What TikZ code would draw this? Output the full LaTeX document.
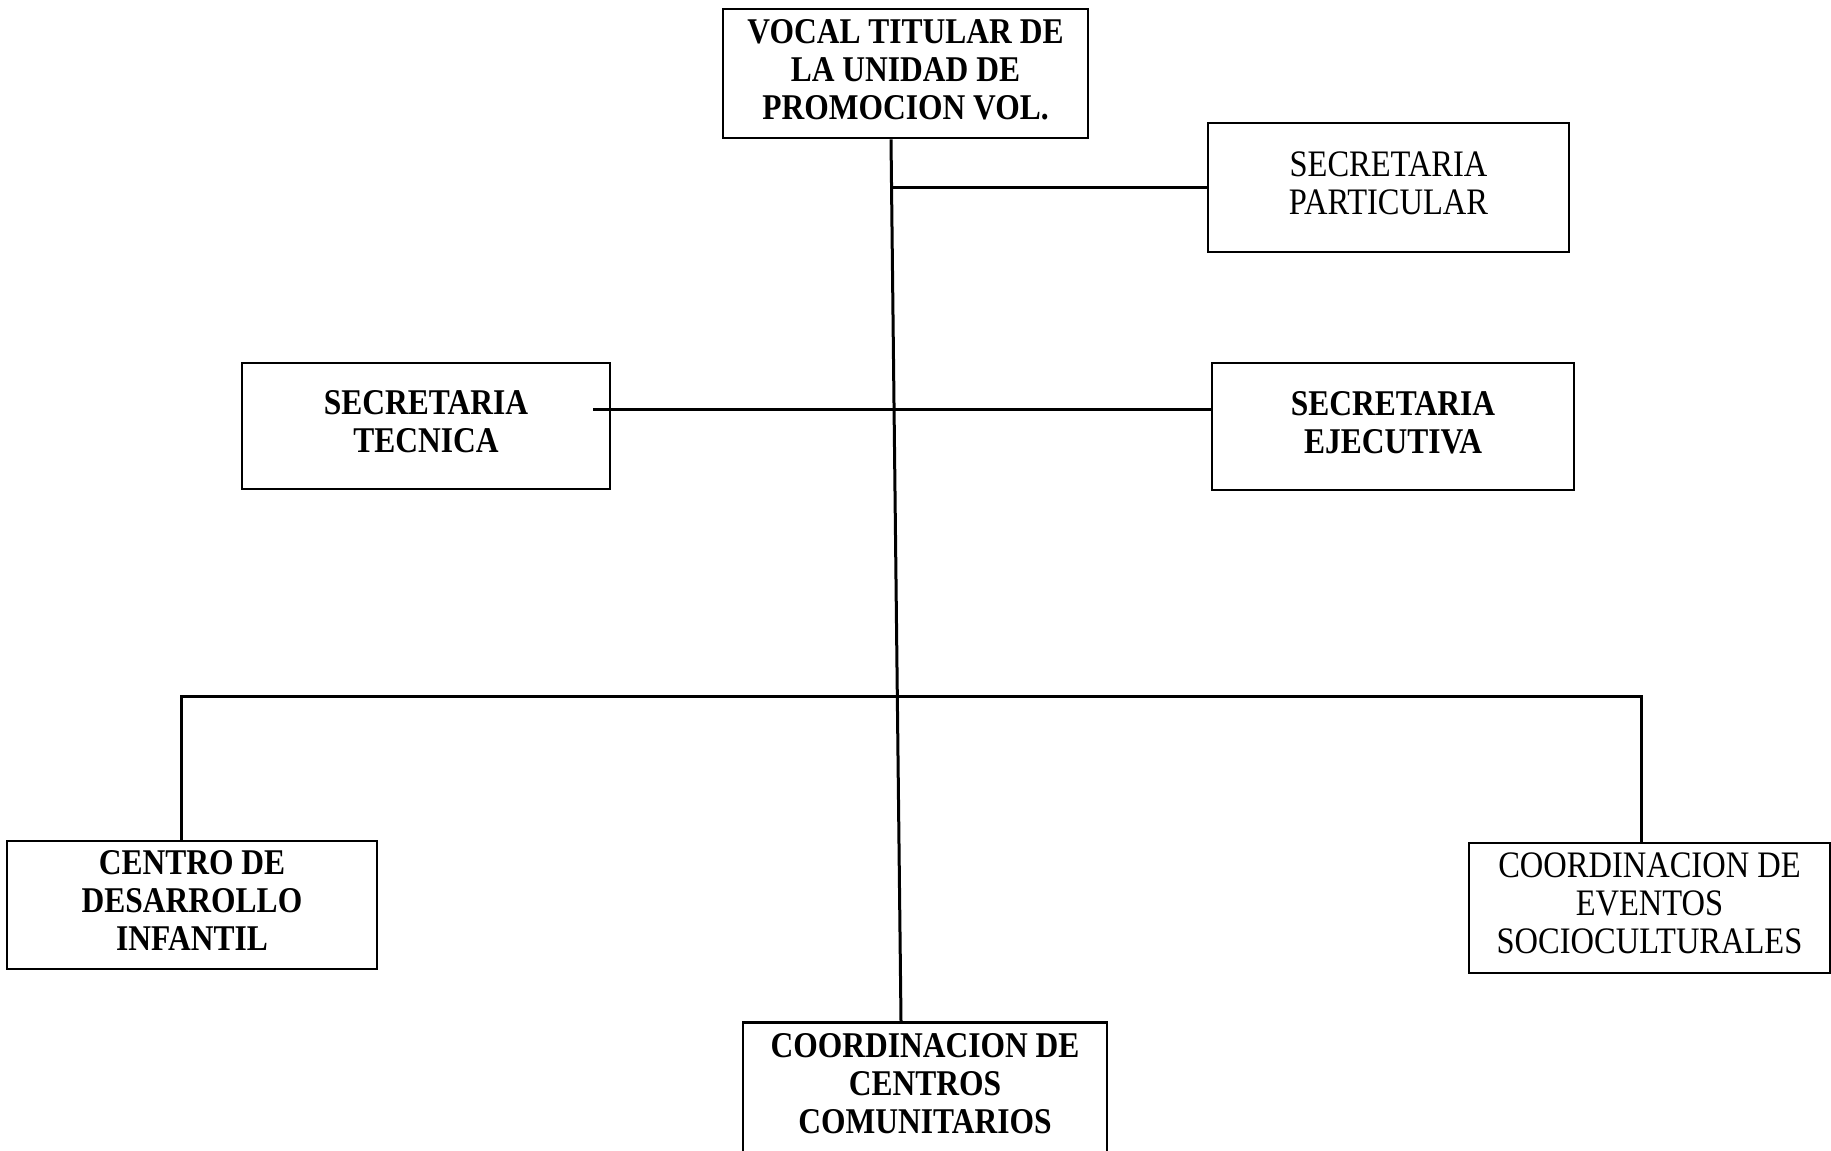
\documentclass[tikz,border=0pt]{standalone}
\usepackage{graphicx}
\usepackage{fontspec}
\setmainfont{Liberation Serif}
\usetikzlibrary{calc}

% Stacked, slightly tall lettering used inside every box
\newcommand{\boxlines}[1]{\scalebox{1}[1.15]{\begin{tabular}{@{}c@{}}#1\end{tabular}}}

\tikzset{
  unitbox/.style={draw=black, line width=2.8pt, rectangle, inner sep=0pt,
    minimum width=#1, minimum height=128pt},
  boldtext/.style={font=\bfseries\fontsize{31.5}{33}\selectfont},
  plaintext/.style={font=\fontsize{32.5}{33}\selectfont},
  link/.style={draw=black, line width=3pt}
}

\begin{document}
\begin{tikzpicture}[x=1pt, y=-1pt]
  \useasboundingbox (0,0) rectangle (1831,1151);
  \clip (0,0) rectangle (1831,1151);
  \fill[white] (0,0) rectangle (1831,1151);

  % Head of the unit
  \node[unitbox=365pt, minimum height=129pt, boldtext] (vocal) at (905.5,73.5)
    {\boxlines{VOCAL TITULAR DE\\LA UNIDAD DE\\PROMOCION VOL.}};

  % Staff offices
  \node[unitbox=361pt, minimum height=129pt, plaintext] (part) at (1388.5,187.5)
    {\boxlines{SECRETARIA\\PARTICULAR}};
  \node[unitbox=368pt, minimum height=126pt, boldtext] (tec) at (426,426)
    {\boxlines{SECRETARIA\\TECNICA}};
  \node[unitbox=362pt, minimum height=127pt, boldtext] (eje) at (1393,426.5)
    {\boxlines{SECRETARIA\\EJECUTIVA}};

  % Operating areas
  \node[unitbox=370pt, boldtext] (cdi) at (192,905)
    {\boxlines{CENTRO DE\\DESARROLLO\\INFANTIL}};
  \node[unitbox=361pt, minimum height=130pt, plaintext] (cev) at (1649.5,908)
    {\boxlines{COORDINACION DE\\EVENTOS\\SOCIOCULTURALES}};
  \node[unitbox=364pt, minimum height=160pt, anchor=north] (ccc) at (925,1021) {};
  \node[boldtext, anchor=north, inner sep=0pt] (ccclabel) at ([yshift=-10pt]ccc.north)
    {\boxlines{COORDINACION DE\\CENTROS\\COMUNITARIOS}};

  % Main trunk from the head down to the community centres
  \coordinate (t0) at ([xshift=-14.5pt]vocal.south);
  \coordinate (t1) at ([xshift=-24pt]ccc.north);
  \draw[link] (t0) -- (t1);

  % Branch to the private secretary
  \coordinate (jp) at ($(t0)!0.055!(t1)$);
  \draw[link] (jp |- part.west) -- (part.west);

  % Technical and executive secretaries on one line across the trunk
  \coordinate (tj) at ([xshift=-18pt,yshift=17pt]tec.east);
  \draw[link] (tj) -- (tj -| eje.west);

  % Distribution bar to the lower areas
  \coordinate (bus) at ($(t0)!0.632!(t1)$);
  \draw[link] ([xshift=-11pt]cdi.north) |- (bus) -| ([xshift=-8.5pt]cev.north);
\end{tikzpicture}
\end{document}
